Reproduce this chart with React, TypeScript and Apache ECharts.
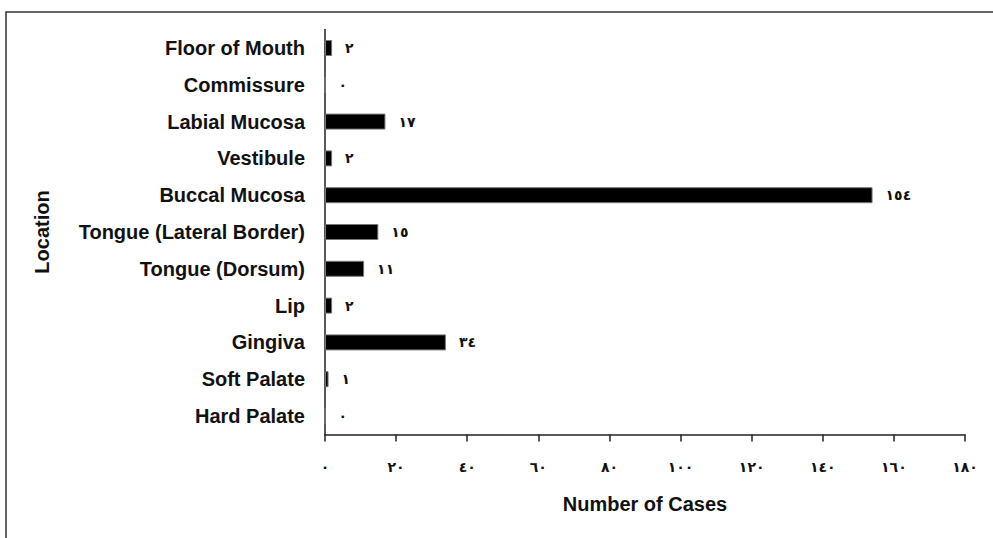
import React, { useEffect, useRef } from "react";
import * as echarts from "echarts";

const categories = [
  "Hard Palate",
  "Soft Palate",
  "Gingiva",
  "Lip",
  "Tongue (Dorsum)",
  "Tongue (Lateral Border)",
  "Buccal Mucosa",
  "Vestibule",
  "Labial Mucosa",
  "Commissure",
  "Floor of Mouth",
];
const values = [0, 1, 34, 2, 11, 15, 154, 2, 17, 0, 2];
const xTicks = [0, 20, 40, 60, 80, 100, 120, 140, 160, 180];

const arabicDigits = "٠١٢٣٤٥٦٧٨٩";
const toArabic = (n: number) =>
  String(n)
    .split("")
    .map((c) => (c >= "0" && c <= "9" ? arabicDigits[+c] : c))
    .join("");

const FONT = "'Liberation Sans', Arial, sans-serif";
const DIGIT_FONT = "'DejaVu Sans', 'Noto Sans', sans-serif";

export default function App() {
  const ref = useRef<HTMLDivElement>(null);
  useEffect(() => {
    if (!ref.current) return;
    const chart = echarts.init(ref.current, undefined, { renderer: "svg" });
    chart.setOption({
      animation: false,
      backgroundColor: "#ffffff",
      grid: { left: 325, right: 28, top: 29.6, bottom: 103.6, containLabel: false },
      xAxis: {
        type: "value",
        min: xTicks[0],
        max: xTicks[xTicks.length - 1],
        interval: 20,
        name: "Number of Cases",
        nameLocation: "middle",
        nameGap: 60,
        nameTextStyle: { fontFamily: FONT, fontWeight: "bold", fontSize: 20, color: "#111" },
        axisLine: { show: true, lineStyle: { color: "#222", width: 1.5 } },
        axisTick: { show: true, length: 7, lineStyle: { color: "#222", width: 1.5 } },
        axisLabel: {
          margin: 26,
          fontFamily: DIGIT_FONT,
          fontWeight: "bold",
          fontSize: 14,
          color: "#111",
          formatter: (v: number) => toArabic(v),
        },
        splitLine: { show: false },
      },
      yAxis: {
        type: "category",
        data: categories,
        axisLine: { show: true, lineStyle: { color: "#222", width: 1.5 } },
        axisTick: { show: false },
        axisLabel: {
          margin: 20,
          fontFamily: FONT,
          fontWeight: "bold",
          fontSize: 20,
          color: "#111",
        },
        splitLine: { show: false },
      },
      graphic: [
        {
          type: "rect",
          shape: { x: 6, y: 12, width: 1200, height: 700 },
          style: { fill: "none", stroke: "#333", lineWidth: 1.5 },
          silent: true,
          z: -1,
        },
        {
          type: "text",
          x: 42,
          y: 232,
          rotation: Math.PI / 2,
          style: {
            text: "Location",
            font: `bold 20px ${FONT}`,
            fill: "#111",
            align: "center",
            verticalAlign: "middle",
          },
        },
      ],
      series: [
        {
          type: "bar",
          data: values,
          barWidth: 16,
          itemStyle: { color: "#000", borderColor: "#777", borderWidth: 1 },
          label: {
            show: true,
            position: "right",
            distance: 13,
            fontFamily: DIGIT_FONT,
            fontWeight: "bold",
            fontSize: 14,
            color: "#111",
            formatter: (p: any) => toArabic(p.value),
          },
        },
      ],
    });
    return () => chart.dispose();
  }, []);
  return (
    <div
      ref={ref}
      style={{ position: "fixed", left: 0, top: 0, width: 993, height: 538 }}
    />
  );
}
